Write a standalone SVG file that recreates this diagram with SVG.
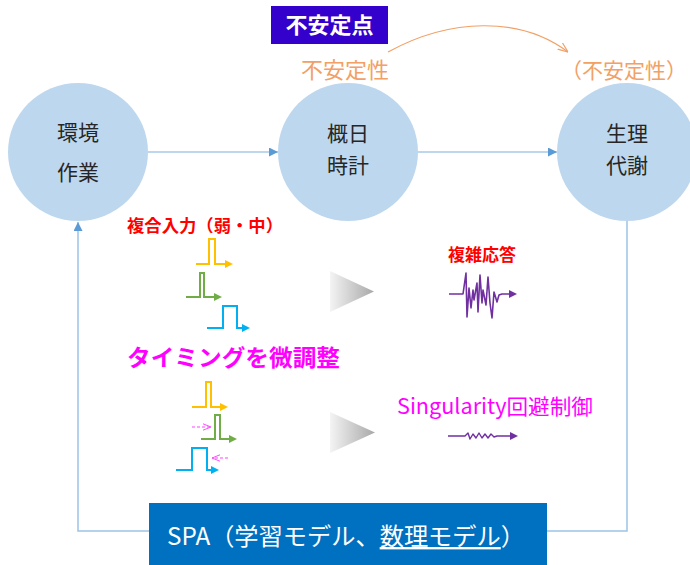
<svg xmlns="http://www.w3.org/2000/svg" width="690" height="565" viewBox="0 0 690 565">
<style>
text{font-family:"Noto Sans CJK JP","Noto Sans",sans-serif}
.node{fill:#BDD7EE}
.nt{font-size:21px;fill:#262626;text-anchor:middle}
.flow{stroke:#BDD7EE;stroke-width:2;fill:none}
.fb{stroke:#9DC3E6;stroke-width:1.5;fill:none}
.orange{fill:#F2A065;text-anchor:middle}
.pulse{fill:none;stroke-width:2}
.red{fill:#FF0000;font-weight:bold;font-size:17px}
.mag{fill:#FF00FF}
</style>
<defs>
<marker id="ab" viewBox="0 0 10 10" refX="10" refY="5" markerWidth="9" markerHeight="9" markerUnits="userSpaceOnUse" orient="auto"><path d="M0,0L10,5L0,10z" fill="#5B9BD5"/></marker>
<marker id="ay" viewBox="0 0 10 10" refX="0" refY="5" markerWidth="8" markerHeight="8" markerUnits="userSpaceOnUse" orient="auto"><path d="M0,0L10,5L0,10z" fill="#FFC000"/></marker>
<marker id="ag" viewBox="0 0 10 10" refX="0" refY="5" markerWidth="8" markerHeight="8" markerUnits="userSpaceOnUse" orient="auto"><path d="M0,0L10,5L0,10z" fill="#70AD47"/></marker>
<marker id="ac" viewBox="0 0 10 10" refX="0" refY="5" markerWidth="8" markerHeight="8" markerUnits="userSpaceOnUse" orient="auto"><path d="M0,0L10,5L0,10z" fill="#00B0F0"/></marker>
<marker id="ap" viewBox="0 0 10 10" refX="0" refY="5" markerWidth="8" markerHeight="8" markerUnits="userSpaceOnUse" orient="auto"><path d="M0,0L10,5L0,10z" fill="#7030A0"/></marker>
<marker id="ao" viewBox="0 0 10 10" refX="10" refY="5" markerWidth="10" markerHeight="10" markerUnits="userSpaceOnUse" orient="auto"><path d="M0,1L10,5L0,9" fill="none" stroke="#F2A065" stroke-width="1.2"/></marker>
<marker id="am" viewBox="0 0 10 10" refX="10" refY="5" markerWidth="8" markerHeight="8" markerUnits="userSpaceOnUse" orient="auto"><path d="M0,1L10,5L0,9" fill="none" stroke="#FF44FF" stroke-width="1.2"/></marker>
<linearGradient id="gt" x1="0" y1="0" x2="1" y2="0"><stop offset="0" stop-color="#F4F4F4"/><stop offset="1" stop-color="#A8A8A8"/></linearGradient>
</defs>

<g id="connectors">
<path class="flow" d="M148,152 H278" marker-end="url(#ab)"/>
<path class="flow" d="M418,152 H557" marker-end="url(#ab)"/>
<path class="fb" d="M150,531 H78 V222" marker-end="url(#ab)"/>
<path class="fb" d="M627,220 V531 H547"/>
<path d="M388,52 C450,18 520,16 568,52" fill="none" stroke="#F2A065" stroke-width="1.2" marker-end="url(#ao)"/>
</g>

<g id="unstable-point">
<rect x="271" y="6" width="117" height="38" fill="#3300CC"/>
<text x="329.5" y="33" font-size="22" font-weight="bold" fill="#FFFFFF" text-anchor="middle">不安定点</text>
</g>
<g id="label-instability">
<text class="orange" x="345" y="78" font-size="22">不安定性</text>
</g>
<g id="label-instability2">
<text class="orange" x="624" y="78" font-size="21">（不安定性）</text>
</g>

<g id="node-env">
<ellipse class="node" cx="78" cy="152" rx="70" ry="69"/>
<text class="nt" x="78" y="140">環境</text>
<text class="nt" x="78" y="180">作業</text>
</g>
<g id="node-clock">
<ellipse class="node" cx="348" cy="152" rx="70" ry="69"/>
<text class="nt" x="348" y="141">概日</text>
<text class="nt" x="348" y="173">時計</text>
</g>
<g id="node-metab">
<ellipse class="node" cx="627" cy="152" rx="70" ry="69"/>
<text class="nt" x="627" y="141">生理</text>
<text class="nt" x="627" y="173">代謝</text>
</g>

<g id="composite-input">
<text class="red" x="127" y="232" textLength="156" lengthAdjust="spacingAndGlyphs">複合入力（弱・中）</text>
<path class="pulse" stroke="#FFC000" d="M196,264 H209 V239 H215 V264 H225" marker-end="url(#ay)"/>
<path class="pulse" stroke="#70AD47" d="M186,297 H200 V273 H204 V297 H214" marker-end="url(#ag)"/>
<path class="pulse" stroke="#00B0F0" d="M207,328 H223 V306 H237 V328 H242" marker-end="url(#ac)"/>
</g>
<g id="triangle1">
<polygon points="330,271 330,312 374,291.5" fill="url(#gt)"/>
</g>
<g id="complex-response">
<text class="red" x="482" y="261" text-anchor="middle" font-size="18">複雑応答</text>
<polyline fill="none" stroke="#7030A0" stroke-width="1.6" stroke-linejoin="round" points="449,294 463,294 466,273 467,317 469,288 471,308 473,290 474,300 477,283 478,312 480,275 482,303 483,290 486,305 488,277 490,303 492,318 494,292 497,302 499,295 502,294 509,294" marker-end="url(#ap)"/>
</g>

<g id="timing">
<text class="mag" x="127" y="366" font-size="23" font-weight="bold" textLength="213" lengthAdjust="spacingAndGlyphs">タイミングを微調整</text>
<path class="pulse" stroke="#FFC000" d="M192,407 H206 V382 H211 V407 H220" marker-end="url(#ay)"/>
<path class="pulse" stroke="#70AD47" d="M201,439 H215 V415 H220 V439 H229" marker-end="url(#ag)"/>
<path class="pulse" stroke="#00B0F0" d="M176,470 H192 V448 H207 V470 H211" marker-end="url(#ac)"/>
<path d="M192,427 H211" fill="none" stroke="#FF44FF" stroke-width="1" stroke-dasharray="3,2" marker-end="url(#am)"/>
<path d="M228,458 H212" fill="none" stroke="#FF44FF" stroke-width="1" stroke-dasharray="3,2" marker-end="url(#am)"/>
</g>
<g id="triangle2">
<polygon points="330,412 330,453 375,432.5" fill="url(#gt)"/>
</g>
<g id="singularity">
<text class="mag" x="397" y="414" font-size="21" textLength="196" lengthAdjust="spacingAndGlyphs">Singularity回避制御</text>
<polyline fill="none" stroke="#7030A0" stroke-width="1.4" stroke-linejoin="round" points="448,436 465,436 468,433 470,439 473,434 476,438 479,433 482,438 485,434 488,438 491,434 494,437 497,436 510,436" marker-end="url(#ap)"/>
</g>

<g id="spa">
<rect x="149" y="503" width="398" height="63" fill="#0070C0"/>
<text x="167" y="545" font-size="24" fill="#FFFFFF" textLength="358" lengthAdjust="spacingAndGlyphs">SPA（学習モデル、<tspan style="text-decoration:underline">数理モデル</tspan>）</text>
</g>
</svg>
